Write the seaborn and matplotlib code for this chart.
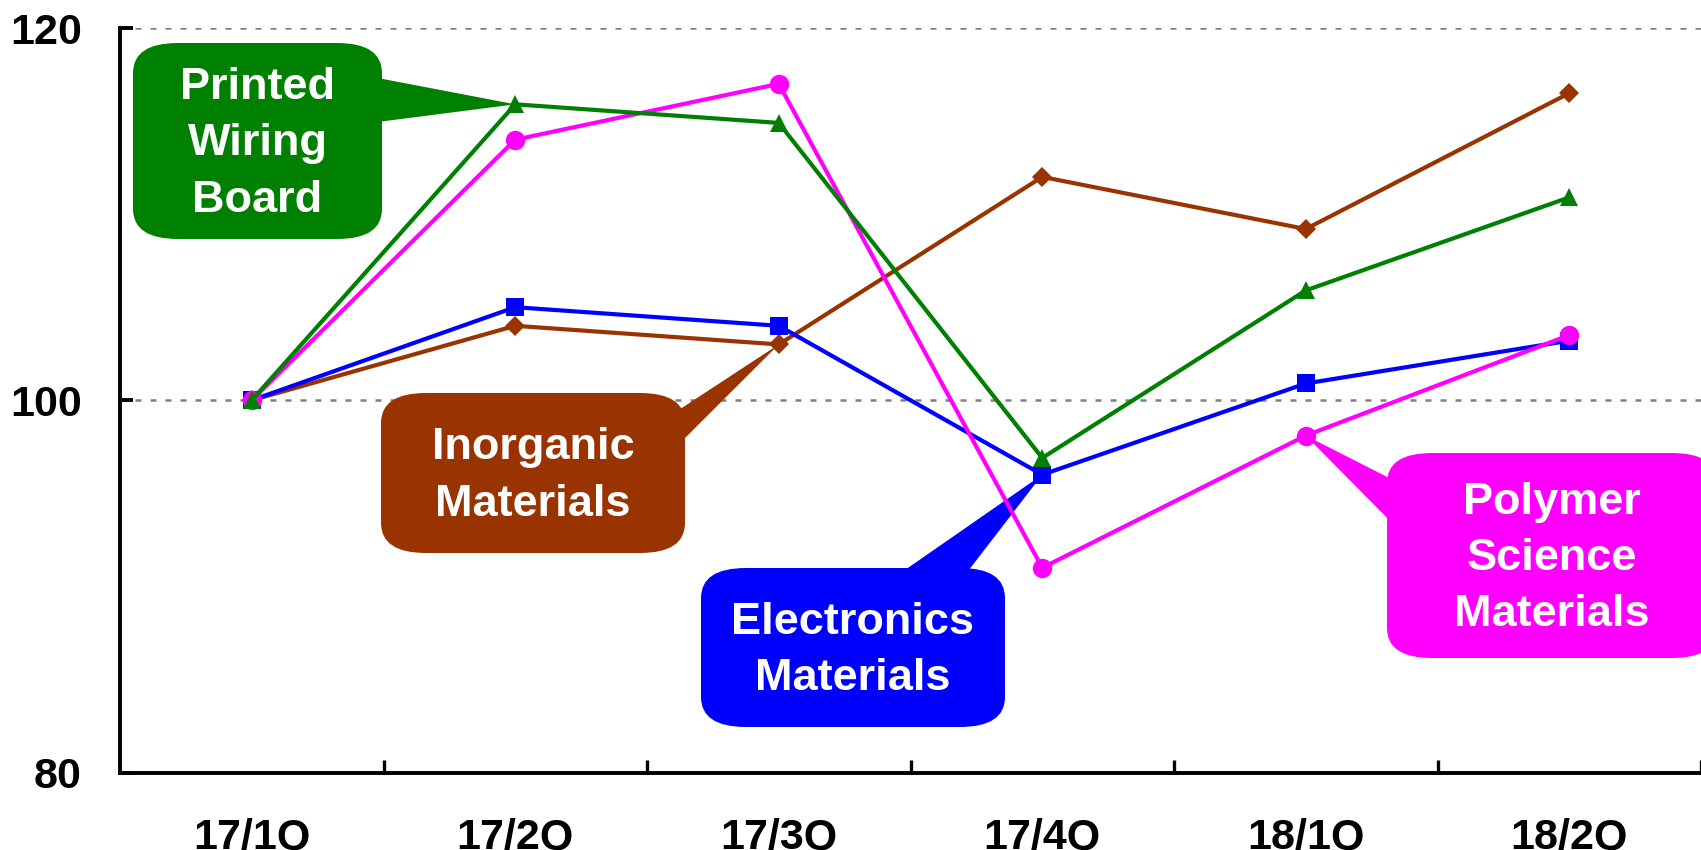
import numpy as np
import matplotlib
matplotlib.use("Agg")
import matplotlib.pyplot as plt
import seaborn as sns
from matplotlib.patches import FancyBboxPatch, Polygon

# ---------------- data ----------------
quarters = ["17/1Q", "17/2Q", "17/3Q", "17/4Q", "18/1Q", "18/2Q"]
inorganic = [100, 104.0, 103.0, 112.0, 109.2, 116.5]
electronics = [100, 105.0, 104.0, 96.0, 100.9, 103.2]
polymer = [100, 114.0, 117.0, 91.0, 98.1, 103.5]
pwb = [100, 115.9, 114.9, 96.9, 105.9, 110.9]
y_ticks = [80, 100, 120]

# ---------------- style ----------------
sns.set_style("white")
plt.rcParams["font.family"] = ["Liberation Sans", "DejaVu Sans"]
plt.rcParams["font.weight"] = "bold"

W, H, DPI = 1701, 850, 100
fig = plt.figure(figsize=(W / DPI, H / DPI), dpi=DPI)
fig.patch.set_facecolor("white")
ax = fig.add_axes([120 / W, 1 - 772.5 / H, (W - 120) / W, (772.5 - 28) / H])
ax.set_facecolor("white")

x = np.arange(len(quarters))
series = [
    ("Inorganic Materials", inorganic, "#993300", "D", 10.5),
    ("Electronics Materials", electronics, "#0000FF", "s", 12.5),
    ("Polymer Science Materials", polymer, "#FF00FF", "o", 14),
    ("Printed Wiring Board", pwb, "#008000", "^", 13.5),
]
for i, (name, vals, col, mk, ms) in enumerate(series):
    n_before = len(ax.lines)
    sns.lineplot(x=x, y=vals, ax=ax, color=col, marker=mk, markersize=ms,
                 markeredgecolor=col, markeredgewidth=0, linewidth=3.0,
                 zorder=5 + i, legend=False)
    for ln in ax.lines[n_before:]:
        ln.set_linewidth(3.0)
        ln.set_markersize(ms)
        ln.set_markeredgewidth(0)
        ln.set_zorder(5 + i)

ax.set_xlim(-0.5, 5.5)
ax.set_ylim(80, 120)
ax.set_yticks(y_ticks)
ax.set_yticklabels([str(v) for v in y_ticks])
ax.set_xticks(x)
ax.set_xticklabels(quarters)
ax.set_xticks(x + 0.5, minor=True)
ax.set_xlabel("")
ax.set_ylabel("")
ax.tick_params(axis="x", which="major", length=0, pad=33, labelsize=31, colors="black")
ax.tick_params(axis="x", which="minor", direction="in", length=9.5, width=2.4,
               color="black", bottom=True)
ax.tick_params(axis="y", which="major", direction="in", length=9.5, width=2.8,
               pad=27.5, labelsize=31, left=True, color="black", labelcolor="black")
for s in ["top", "right"]:
    ax.spines[s].set_visible(False)
for s in ["left", "bottom"]:
    ax.spines[s].set_linewidth(2.8)
    ax.spines[s].set_color("black")
ax.grid(axis="y", color="#808080", linewidth=1.8, linestyle=(0, (2.4, 3.6)))
ax.grid(axis="x", visible=False)
ax.set_axisbelow(True)

# ---------------- callouts ----------------
def px2ax(px, py):
    return ax.transAxes.inverted().transform((px, H - py))

def data2ax(xv, yv):
    return ax.transAxes.inverted().transform(ax.transData.transform((xv, yv)))

callouts = [
    dict(text="Printed\nWiring\nBoard", color="#008000",
         box=(133, 43, 382, 239), base=((382, 75), (382, 124)), tip=(1, pwb[1])),
    dict(text="Inorganic\nMaterials", color="#993300",
         box=(381, 393, 685, 553), base=((685, 419), (685, 458)), tip=(2, inorganic[2])),
    dict(text="Electronics\nMaterials", color="#0000FF",
         box=(701, 568, 1005, 727), base=((879, 568), (955, 568)), tip=(3, electronics[3])),
    dict(text="Polymer\nScience\nMaterials", color="#FF00FF",
         box=(1387, 453, 1717, 658), base=((1387, 487), (1387, 538)), tip=(4, polymer[4])),
]

axw, axh = ax.bbox.width, ax.bbox.height
rx_px, ry_px = 45, 30
r = rx_px / axw
m = (ry_px / rx_px) * axw / axh
inset = 20

for c in callouts:
    bx0, by0, bx1, by1 = c["box"]
    cxp, cyp = (bx0 + bx1) / 2, (by0 + by1) / 2
    pts = []
    for (px, py) in c["base"]:
        if px == bx0:
            px = px + inset
        elif px == bx1:
            px = px - inset
        elif py == by0:
            py = py + inset
        elif py == by1:
            py = py - inset
        pts.append(px2ax(px, py))
    tip = data2ax(*c["tip"])
    wedge = Polygon([pts[0], tip, pts[1]], closed=True, transform=ax.transAxes,
                    facecolor=c["color"], edgecolor="none", clip_on=False, zorder=2)
    ax.add_patch(wedge)
    (x0, y0) = px2ax(bx0, by1)
    (x1, y1) = px2ax(bx1, by0)
    box = FancyBboxPatch((x0, y0), x1 - x0, y1 - y0,
                         boxstyle=f"round,pad=0,rounding_size={r}",
                         mutation_aspect=m, transform=ax.transAxes,
                         facecolor=c["color"], edgecolor="none", clip_on=False, zorder=2.1)
    ax.add_patch(box)
    tx, ty = px2ax(cxp, cyp + 3)
    ax.text(tx, ty, c["text"], transform=ax.transAxes, ha="center", va="center",
            color="white", fontsize=32.5, fontweight="bold", linespacing=1.48,
            zorder=3, clip_on=False)

fig.savefig("out.png", dpi=DPI, facecolor="white")
